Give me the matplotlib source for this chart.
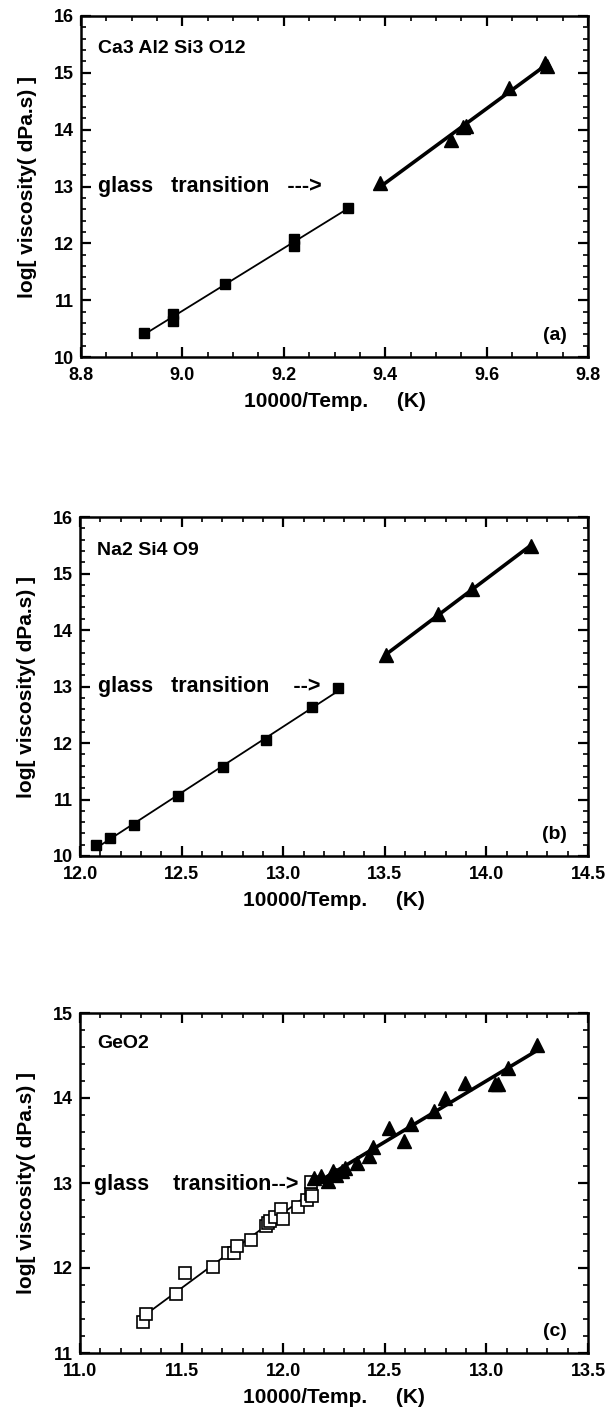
import numpy as np
import matplotlib
matplotlib.use("Agg")
import matplotlib.pyplot as plt
from matplotlib.ticker import MultipleLocator, FormatStrFormatter

plt.rcParams['font.family'] = ['Liberation Sans', 'DejaVu Sans']
plt.rcParams['font.weight'] = 'bold'

# ---------------- data ----------------
# (a) Ca3Al2Si3O12
a_sq_x = [8.925, 8.982, 8.982, 9.085, 9.22, 9.22, 9.327]
a_sq_y = [10.42, 10.64, 10.76, 11.29, 11.95, 12.08, 12.63]
a_tr_x = [9.39, 9.53, 9.553, 9.56, 9.645, 9.715, 9.72]
a_tr_y = [13.06, 13.82, 14.04, 14.07, 14.73, 15.18, 15.12]

# (b) Na2Si4O9
b_sq_x = [12.08, 12.147, 12.267, 12.483, 12.705, 12.917, 13.143, 13.27]
b_sq_y = [10.19, 10.32, 10.54, 11.06, 11.58, 12.05, 12.63, 12.97]
b_tr_x = [13.508, 13.76, 13.928, 14.219]
b_tr_y = [13.55, 14.28, 14.73, 15.48]

# (c) GeO2
c_sq_x = [11.31, 11.325, 11.473, 11.519, 11.656, 11.727, 11.756, 11.771, 11.842, 11.913,
          11.923, 11.933, 11.96, 11.987, 12.0, 12.071, 12.119, 12.135, 12.144, 12.135]
c_sq_y = [11.36, 11.46, 11.69, 11.94, 12.01, 12.18, 12.18, 12.26, 12.33, 12.49,
          12.53, 12.55, 12.60, 12.70, 12.58, 12.72, 12.80, 12.87, 12.85, 13.01]
c_tr_x = [12.154, 12.188, 12.221, 12.246, 12.26, 12.288, 12.304, 12.362, 12.423, 12.442,
          12.519, 12.596, 12.631, 12.74, 12.794, 12.894, 13.042, 13.058, 13.108, 13.25]
c_tr_y = [13.06, 13.08, 13.02, 13.14, 13.10, 13.14, 13.18, 13.23, 13.32, 13.42,
          13.65, 13.49, 13.70, 13.85, 14.0, 14.18, 14.16, 14.16, 14.35, 14.62]

panels = [
    dict(name="Ca3 Al2 Si3 O12", name_y=0.905, tag="(a)", xlim=(8.8, 9.8), ylim=(10, 16),
         xmaj=0.2, xmin=0.05, ymaj=1, ymin=0.2,
         sq=(a_sq_x, a_sq_y), tr=(a_tr_x, a_tr_y), open_sq=False,
         gt_text="glass   transition   --->", gt_pos=(8.833, 13.0),
         box=(81, 16, 588, 357)),
    dict(name="Na2 Si4 O9", name_y=0.90, tag="(b)", xlim=(12.0, 14.5), ylim=(10, 16),
         xmaj=0.5, xmin=0.1, ymaj=1, ymin=0.2,
         sq=(b_sq_x, b_sq_y), tr=(b_tr_x, b_tr_y), open_sq=False,
         gt_text="glass   transition    -->", gt_pos=(12.087, 13.0),
         box=(80, 517, 588, 856)),
    dict(name="GeO2", name_y=0.91, tag="(c)", xlim=(11.0, 13.5), ylim=(11, 15),
         xmaj=0.5, xmin=0.1, ymaj=1, ymin=0.2,
         sq=(c_sq_x, c_sq_y), tr=(c_tr_x, c_tr_y), open_sq=True,
         gt_text="glass    transition-->", gt_pos=(11.067, 12.98),
         box=(80, 1013, 588, 1353)),
]

W, H = 613, 1411
fig = plt.figure(figsize=(W / 100, H / 100), dpi=100)

for p in panels:
    l, t, r, b = p["box"]
    ax = fig.add_axes([l / W, 1 - b / H, (r - l) / W, (b - t) / H])
    sx, sy = np.array(p["sq"][0]), np.array(p["sq"][1])
    tx, ty = np.array(p["tr"][0]), np.array(p["tr"][1])

    # regression lines
    k, c0 = np.polyfit(sx, sy, 1)
    xs = np.array([sx.min(), sx.max()])
    ax.plot(xs, k * xs + c0, color="black", lw=1.3, zorder=2)
    k2, c2 = np.polyfit(tx, ty, 1)
    xt = np.array([tx.min(), tx.max()])
    ax.plot(xt, k2 * xt + c2, color="black", lw=2.6, zorder=2)

    if p["open_sq"]:
        ax.plot(sx, sy, ls="none", marker="s", ms=8.5, mfc="white", mec="black",
                mew=1.2, zorder=3)
        ax.plot(tx, ty, ls="none", marker="^", ms=10, color="black", zorder=4)
    else:
        ax.plot(sx, sy, ls="none", marker="s", ms=7, color="black", zorder=3)
        ax.plot(tx, ty, ls="none", marker="^", ms=10.5, color="black", zorder=4)

    ax.set_xlim(*p["xlim"])
    ax.set_ylim(*p["ylim"])
    ax.xaxis.set_major_locator(MultipleLocator(p["xmaj"]))
    ax.xaxis.set_minor_locator(MultipleLocator(p["xmin"]))
    ax.yaxis.set_major_locator(MultipleLocator(p["ymaj"]))
    ax.yaxis.set_minor_locator(MultipleLocator(p["ymin"]))
    ax.xaxis.set_major_formatter(FormatStrFormatter("%.1f"))
    ax.yaxis.set_major_formatter(FormatStrFormatter("%d"))
    ax.tick_params(which="both", direction="in", top=True, right=True, labelsize=13)
    ax.tick_params(which="major", length=7, width=1.6)
    ax.tick_params(which="minor", length=3.5, width=1.2)
    ax.tick_params(axis="x", which="major", pad=7)
    ax.tick_params(axis="y", which="major", pad=5)
    for lab in ax.get_xticklabels() + ax.get_yticklabels():
        lab.set_fontweight("bold")
    for s in ax.spines.values():
        s.set_linewidth(1.8)

    ax.set_xlabel("10000/Temp.     (K)", fontsize=15, fontweight="bold", labelpad=6)
    ax.set_ylabel("log[ viscosity( dPa.s) ]", fontsize=15, fontweight="bold", labelpad=12)

    ax.text(0.033, p["name_y"], p["name"], transform=ax.transAxes, fontsize=14,
            fontweight="bold", ha="left", va="center")
    ax.text(0.958, 0.0625, p["tag"], transform=ax.transAxes, fontsize=14,
            fontweight="bold", ha="right", va="center")
    ax.text(p["gt_pos"][0], p["gt_pos"][1], p["gt_text"], fontsize=15.5,
            fontweight="bold", ha="left", va="center")

fig.savefig("out.png", dpi=100)
